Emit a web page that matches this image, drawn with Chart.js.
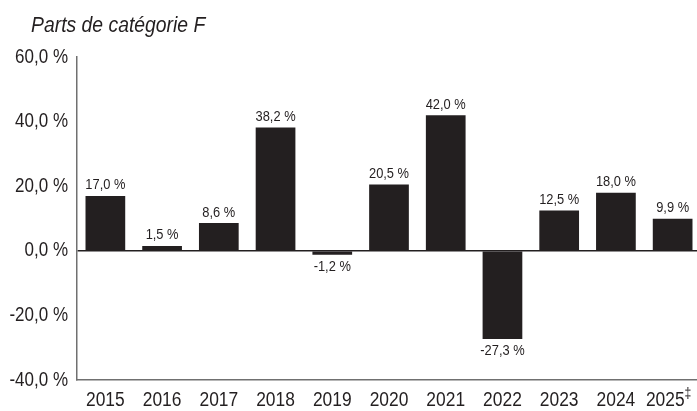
<!DOCTYPE html>
<html><head><meta charset="utf-8">
<script src="https://cdn.jsdelivr.net/npm/chart.js@4/dist/chart.umd.min.js"></script>
<style>html,body{margin:0;padding:0;background:#fff;overflow:hidden}#wrap{width:697px;height:411px;overflow:hidden}</style>
</head><body><div id="wrap"><canvas id="c" width="701" height="411"></canvas></div>
<script>
const categories = ['2015','2016','2017','2018','2019','2020','2021','2022','2023','2024','2025‡'];
const values = [17.0, 1.5, 8.6, 38.2, -1.2, 20.5, 42.0, -27.3, 12.5, 18.0, 9.9];
const yTicks = [-40, -20, 0, 20, 40, 60];
const titleText = 'Parts de catégorie F';

const FAM = "'Liberation Sans', Arial, sans-serif";
const INK = '#231f20';
const fmt = v => v.toFixed(1).replace('.', ',') + ' %';

// draw horizontally condensed text (reference uses a narrow Helvetica-like face)
function narrow(ctx, text, x, y, opt) {
  ctx.save();
  ctx.font = (opt.style || '') + ' ' + opt.size + 'px ' + FAM;
  ctx.fillStyle = INK;
  ctx.textAlign = opt.align || 'left';
  ctx.textBaseline = opt.baseline || 'alphabetic';
  ctx.translate(x, y);
  ctx.scale(opt.sx, 1);
  ctx.fillText(text, 0, 0);
  ctx.restore();
}

const textPlugin = {
  id: 'texts',
  afterDraw(chart) {
    const ctx = chart.ctx;
    const meta = chart.getDatasetMeta(0);
    meta.data.forEach((bar, i) => {
      const v = values[i];
      if (v >= 0) narrow(ctx, fmt(v), bar.x, bar.y - 3, { size: 15.5, sx: 0.83, align: 'center', baseline: 'bottom' });
      else narrow(ctx, fmt(v), bar.x, bar.y + 4, { size: 15.5, sx: 0.83, align: 'center', baseline: 'top' });
    });
    const ys = chart.scales.y;
    ys.ticks.forEach(t => {
      narrow(ctx, fmt(t.value), ys.right - 9, ys.getPixelForValue(t.value), { size: 20, sx: 0.85, align: 'right', baseline: 'middle' });
    });
    const xs = chart.scales.x;
    categories.forEach((lab, i) => {
      const x = xs.getPixelForValue(i);
      const y = xs.top + 10;
      const m = lab.match(/^(\d+)(\D*)$/);
      const main = m ? m[1] : lab, sup = m ? m[2] : '';
      if (!sup) {
        narrow(ctx, main, x, y, { size: 20, sx: 0.87, align: 'center', baseline: 'top' });
      } else {
        ctx.save();
        ctx.font = '20px ' + FAM;
        const w1 = ctx.measureText(main).width * 0.87;
        ctx.font = '14px ' + FAM;
        const w2 = ctx.measureText(sup).width * 0.87;
        ctx.restore();
        const x0 = x - (w1 + w2) / 2 - 4;
        narrow(ctx, main, x0, y, { size: 20, sx: 0.87, align: 'left', baseline: 'top' });
        narrow(ctx, sup, x0 + w1, y - 3, { size: 14, sx: 0.87, align: 'left', baseline: 'top' });
      }
    });
    narrow(ctx, titleText, 31, 32, { size: 22, sx: 0.88, style: 'italic', align: 'left', baseline: 'alphabetic' });
  }
};

new Chart(document.getElementById('c'), {
  type: 'bar',
  data: { labels: categories, datasets: [{ data: values, backgroundColor: INK, borderWidth: 0, barPercentage: 0.7, categoryPercentage: 1.0 }] },
  options: {
    responsive: false, animation: false, devicePixelRatio: 1,
    layout: { padding: { top: 57, right: 0, left: 0, bottom: 0 } },
    plugins: { legend: { display: false }, tooltip: { enabled: false }, title: { display: false } },
    scales: {
      x: {
        grid: { display: false, drawTicks: false },
        border: { display: true, color: '#707070', width: 1.5 },
        ticks: { color: 'rgba(0,0,0,0)', font: { family: FAM, size: 12 }, padding: 8, maxRotation: 0, autoSkip: false },
        afterFit(s) { s.height = 31; s.paddingLeft = 0; s.paddingRight = 0; }
      },
      y: {
        min: -40, max: 60,
        afterBuildTicks(s) { s.ticks = yTicks.map(v => ({ value: v })); },
        grid: { drawTicks: false, color: c => (c.tick && c.tick.value === 0) ? INK : 'rgba(0,0,0,0)', lineWidth: 1.5 },
        border: { display: true, color: '#707070', width: 1.5 },
        ticks: { color: 'rgba(0,0,0,0)', font: { family: FAM, size: 12 }, padding: 9, callback: v => fmt(v) },
        afterFit(s) { s.width = 77; s.paddingTop = 0; s.paddingBottom = 0; }
      }
    }
  },
  plugins: [textPlugin]
});
</script></body></html>
